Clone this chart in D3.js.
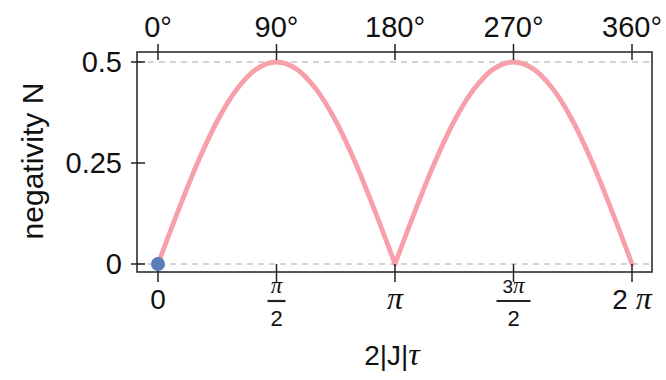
<!DOCTYPE html>
<html>
<head>
<meta charset="utf-8">
<script src="https://cdn.jsdelivr.net/npm/d3@7"></script>
<style>
  body { margin: 0; background: #fff; }
  text { font-family: "Liberation Sans", Arial, sans-serif; fill: #111; }
  .pi { font-family: "Liberation Serif", "Times New Roman", serif; font-style: italic; }
</style>
</head>
<body>
<svg id="chart" width="666" height="380"></svg>
<script>
// phase in units of pi
const phase = [0, 1/12, 2/12, 3/12, 4/12, 5/12, 6/12, 7/12, 8/12, 9/12, 10/12, 11/12, 1,
  13/12, 14/12, 15/12, 16/12, 17/12, 18/12, 19/12, 20/12, 21/12, 22/12, 23/12, 2];
const negativity = [0, 0.129, 0.25, 0.354, 0.433, 0.483, 0.5, 0.483, 0.433, 0.354, 0.25, 0.129, 0,
  0.129, 0.25, 0.354, 0.433, 0.483, 0.5, 0.483, 0.433, 0.354, 0.25, 0.129, 0];
const marker = [{ x: 0, y: 0 }];

const yTicks = [0, 0.25, 0.5];
const yTickLabels = ['0', '0.25', '0.5'];
const xTicks = [0, 0.5, 1, 1.5, 2];           // units of pi
const topLabels = ['0°', '90°', '180°', '270°', '360°'];
const bottomLabels = [
  { pre: '0' }, { pre: '', den: '2' }, { pre: '', pi: true }, { pre: '3', den: '2' }, { pre: '2 ', pi: true }
];

const svg = d3.select('#chart');
const frame = { left: 137, right: 652, top: 52, bottom: 272 };

const x = d3.scaleLinear().domain([0, 2]).range([158, 632]);
const y = d3.scaleLinear().domain([0, 0.5]).range([264, 62]);

// dashed guide lines
svg.append('g')
  .selectAll('line')
  .data([0, 0.5])
  .enter()
  .append('line')
  .attr('x1', frame.left).attr('x2', frame.right)
  .attr('y1', d => y(d)).attr('y2', d => y(d))
  .attr('stroke', '#aaa')
  .attr('stroke-width', 1.2)
  .attr('stroke-dasharray', '6,5');

// curve, drawn as two arches so the cusp at pi stays sharp
const pts = phase.map((p, i) => ({ p, n: negativity[i] }));
const line = d3.line()
  .x(d => x(d.p))
  .y(d => y(d.n))
  .curve(d3.curveCatmullRom.alpha(0.5));

[pts.filter(d => d.p <= 1), pts.filter(d => d.p >= 1)].forEach(arch => {
  svg.append('path')
    .attr('d', line(arch))
    .attr('fill', 'none')
    .attr('stroke', '#f7a0aa')
    .attr('stroke-width', 4.8)
    .attr('stroke-linecap', 'round');
});

// frame
svg.append('rect')
  .attr('x', frame.left).attr('y', frame.top)
  .attr('width', frame.right - frame.left)
  .attr('height', frame.bottom - frame.top)
  .attr('fill', 'none')
  .attr('stroke', '#222')
  .attr('stroke-width', 1.5);

// ticks
const ticks = svg.append('g').attr('stroke', '#222').attr('stroke-width', 1.5);
ticks.selectAll('.ty').data(yTicks).enter().append('line')
  .attr('x1', frame.left - 6).attr('x2', frame.left + 8)
  .attr('y1', d => y(d)).attr('y2', d => y(d));
ticks.selectAll('.tt').data(xTicks).enter().append('line')
  .attr('x1', d => x(d)).attr('x2', d => x(d))
  .attr('y1', frame.top - 8).attr('y2', frame.top + 8);
ticks.selectAll('.tb').data(xTicks).enter().append('line')
  .attr('x1', d => x(d)).attr('x2', d => x(d))
  .attr('y1', frame.bottom - 8).attr('y2', frame.bottom + 10);

// marker at origin
svg.selectAll('.dot')
  .data(marker)
  .enter()
  .append('circle')
  .attr('cx', d => x(d.x))
  .attr('cy', d => y(d.y))
  .attr('r', 7)
  .attr('fill', '#5b7db8');

// y labels
svg.selectAll('.yl')
  .data(yTicks)
  .enter()
  .append('text')
  .attr('x', 122)
  .attr('y', d => y(d) + 10)
  .attr('text-anchor', 'end')
  .style('font-size', '29px')
  .text((d, i) => yTickLabels[i]);

// top labels
svg.selectAll('.tl')
  .data(xTicks)
  .enter()
  .append('text')
  .attr('x', d => x(d))
  .attr('y', 37)
  .attr('text-anchor', 'middle')
  .style('font-size', '29px')
  .text((d, i) => topLabels[i]);

// bottom labels
const bl = svg.selectAll('.bl')
  .data(xTicks)
  .enter()
  .append('g')
  .attr('transform', d => `translate(${x(d)},0)`);

bl.each(function (d, i) {
  const g = d3.select(this);
  const lab = bottomLabels[i];
  if (!lab.den) {
    const t = g.append('text')
      .attr('y', 309)
      .attr('text-anchor', 'middle')
      .style('font-size', '28px')
      .text(lab.pre);
    if (lab.pi) t.append('tspan').attr('class', 'pi').style('font-size', '32px').text('π');
  } else {
    const t = g.append('text')
      .attr('y', 293)
      .attr('text-anchor', 'middle')
      .style('font-size', '19px')
      .text(lab.pre);
    t.append('tspan').attr('class', 'pi').style('font-size', '23px').text('π');
    const w = lab.pre ? 34 : 18;
    g.append('line')
      .attr('x1', -w / 2).attr('x2', w / 2)
      .attr('y1', 301).attr('y2', 301)
      .attr('stroke', '#222').attr('stroke-width', 2.2);
    g.append('text')
      .attr('y', 326)
      .attr('text-anchor', 'middle')
      .style('font-size', '22px')
      .text(lab.den);
  }
});

// axis titles
svg.append('text')
  .attr('transform', 'translate(43,161) rotate(-90)')
  .attr('text-anchor', 'middle')
  .style('font-size', '30px')
  .text('negativity N');

svg.append('text')
  .attr('x', 392)
  .attr('y', 365)
  .attr('text-anchor', 'middle')
  .style('font-size', '28px')
  .text('2|J|')
  .append('tspan')
  .attr('class', 'pi')
  .style('font-size', '32px')
  .text('τ');
</script>
</body>
</html>
